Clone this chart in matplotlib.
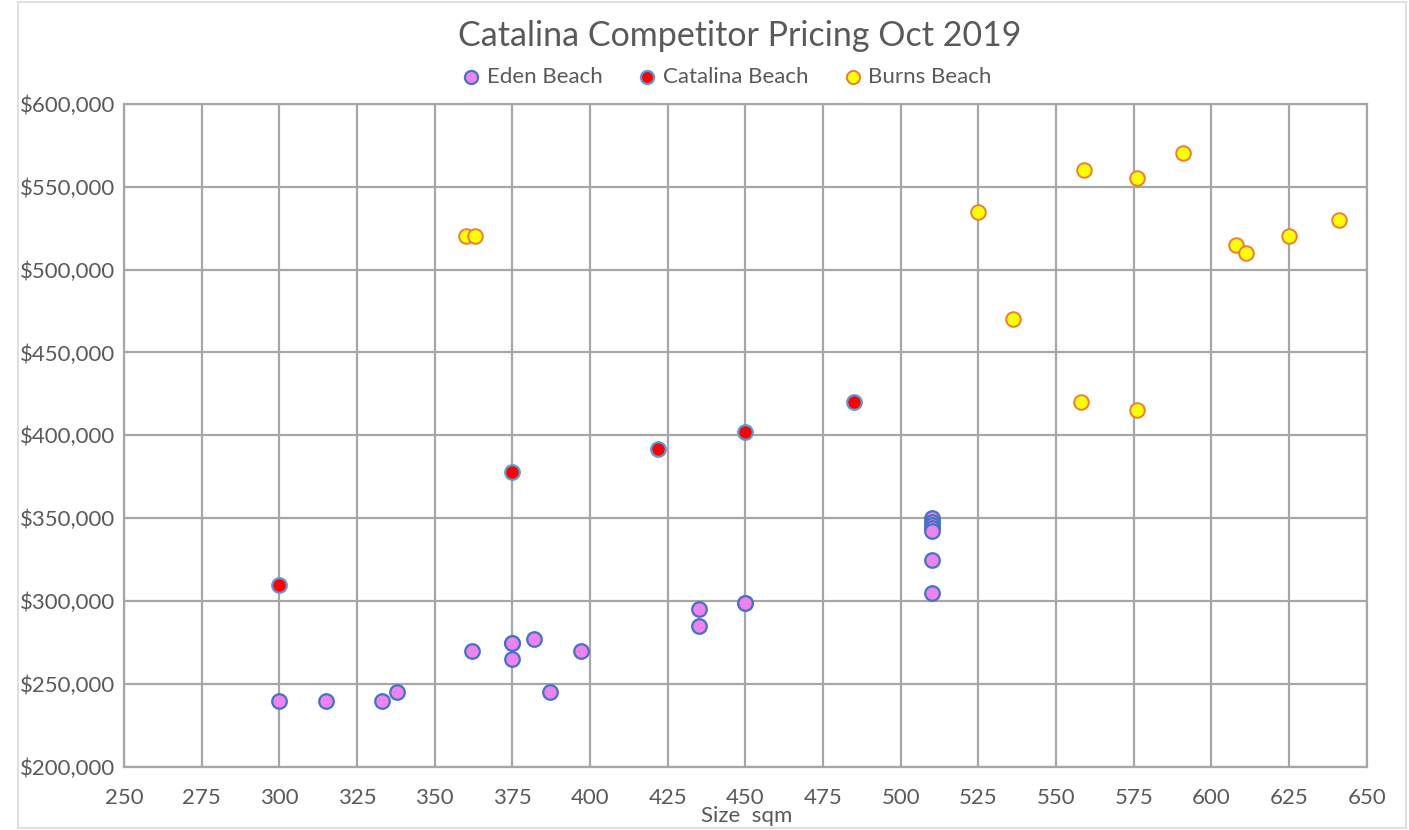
import matplotlib.pyplot as plt
from matplotlib.ticker import FuncFormatter

plt.rcParams['font.family'] = ['Lato', 'DejaVu Sans']

# Eden Beach
eden_size = [300, 315, 333, 338, 362, 375, 375, 375, 382, 387, 397, 435, 435, 450, 450,
             510, 510, 510, 510, 510, 510, 510]
eden_price = [240000, 240000, 240000, 245000, 270000, 275000, 275000, 265000, 277000, 245000,
              270000, 295000, 285000, 299000, 299000,
              350000, 348000, 346000, 344000, 342000, 325000, 305000]

# Catalina Beach
catalina_size = [300, 375, 422, 450, 485]
catalina_price = [310000, 378000, 392000, 402000, 420000]

# Burns Beach
burns_size = [360, 363, 525, 536, 559, 576, 591, 558, 576, 608, 611, 625, 641]
burns_price = [520000, 520000, 535000, 470000, 560000, 555000, 570000, 420000, 415000,
               515000, 510000, 520000, 530000]

txt = '#595959'
grid = '#a6a6a6'

fig = plt.figure(figsize=(14.09, 8.30), dpi=100)
ax = fig.add_axes([0.088, 0.076, 0.882, 0.799])

ax.scatter(eden_size, eden_price, s=110, c='#ee82ee', edgecolors='#4472c4', linewidths=1.6,
           label='Eden Beach', zorder=3)
ax.scatter(catalina_size, catalina_price, s=110, c='#ff0000', edgecolors='#5b9bd5', linewidths=1.6,
           label='Catalina Beach', zorder=3)
ax.scatter(burns_size, burns_price, s=110, c='#ffff00', edgecolors='#ed7d31', linewidths=1.4,
           label='Burns Beach', zorder=3)

ax.set_xlim(250, 650)
ax.set_ylim(200000, 600000)
ax.set_xticks(range(250, 651, 25))
ax.set_yticks(range(200000, 600001, 50000))
ax.yaxis.set_major_formatter(FuncFormatter(lambda v, p: '${:,.0f}'.format(v)))
ax.grid(True, color=grid, linewidth=1.6)
ax.set_axisbelow(True)
for s in ax.spines.values():
    s.set_color(grid)
    s.set_linewidth(1.6)
ax.tick_params(length=0, labelsize=16, colors=txt)
ax.tick_params(axis='x', pad=15)
ax.tick_params(axis='y', pad=6)

fig.text(747 / 1409, 1 - 816 / 830, 'Size  sqm', fontsize=16, color=txt, ha='center', va='center')
fig.text(740 / 1409, 1 - 36 / 830, 'Catalina Competitor Pricing Oct 2019', fontsize=24.5, color=txt,
         ha='center', va='center')
fig.legend(loc='center', bbox_to_anchor=(727 / 1409, 1 - 77 / 830), ncol=3, frameon=False,
           fontsize=16, labelcolor=txt, handlelength=0.8, handletextpad=0.3, columnspacing=1.6,
           markerscale=0.9)

fig.patches.append(plt.Rectangle((0.013, 0.002), 0.985, 0.996, transform=fig.transFigure,
                                 fill=False, edgecolor='#d9d9d9', linewidth=1.2))

plt.savefig('out.png', dpi=100)
